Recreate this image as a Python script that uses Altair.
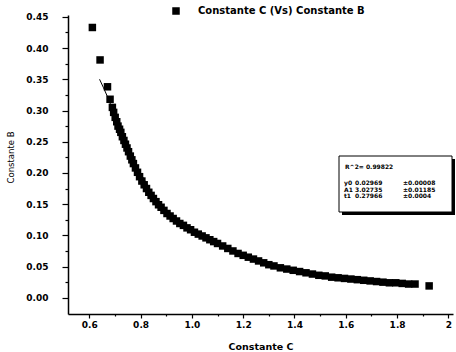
import altair as alt
import pandas as pd

# Scatter data: Constante C (x) vs Constante B (y)
const_c = [0.612, 0.642, 0.671, 0.681,
           0.690, 0.695, 0.701, 0.707, 0.712, 0.718, 0.723, 0.729, 0.735, 0.741,
           0.747, 0.753, 0.760, 0.766, 0.772, 0.780, 0.788, 0.796, 0.805, 0.814,
           0.823, 0.832, 0.841, 0.850, 0.860, 0.870, 0.880, 0.891, 0.903, 0.915,
           0.927, 0.940, 0.953, 0.967, 0.981, 0.995, 1.010, 1.025, 1.040, 1.055,
           1.070, 1.085, 1.100, 1.120, 1.140, 1.160, 1.180, 1.200, 1.220, 1.240,
           1.260, 1.280, 1.300, 1.320, 1.345, 1.370, 1.395, 1.420, 1.445, 1.470,
           1.495, 1.520, 1.545, 1.570, 1.595, 1.620, 1.645, 1.670, 1.695, 1.720,
           1.745, 1.770, 1.795, 1.820, 1.845, 1.870, 1.925]
const_b = [0.433, 0.381, 0.338, 0.318,
           0.305, 0.297, 0.289, 0.282, 0.275, 0.270, 0.265, 0.258, 0.252, 0.246,
           0.240, 0.234, 0.227, 0.221, 0.215, 0.208, 0.201, 0.194, 0.187, 0.181,
           0.175, 0.169, 0.164, 0.159, 0.154, 0.149, 0.145, 0.140, 0.135, 0.131,
           0.127, 0.123, 0.119, 0.116, 0.112, 0.109, 0.105, 0.102, 0.099, 0.096,
           0.093, 0.090, 0.087, 0.083, 0.079, 0.075, 0.071, 0.068, 0.065, 0.062,
           0.059, 0.056, 0.053, 0.051, 0.048, 0.046, 0.044, 0.042, 0.040, 0.038,
           0.036, 0.035, 0.033, 0.032, 0.031, 0.030, 0.029, 0.028, 0.027, 0.026,
           0.025, 0.024, 0.024, 0.023, 0.022, 0.022, 0.019]

# Fitted curve
fit_c = [0.640, 0.671, 0.700, 0.750, 0.800, 0.850, 0.900, 0.950, 1.000, 1.100,
         1.200, 1.300, 1.400, 1.500, 1.600, 1.700, 1.800, 1.870]
fit_b = [0.350, 0.322, 0.292, 0.245, 0.200, 0.165, 0.138, 0.121, 0.108, 0.087,
         0.069, 0.054, 0.044, 0.036, 0.031, 0.027, 0.024, 0.022]

series_name = "Constante C (Vs) Constante B"
x_major_ticks = [0.6, 0.8, 1.0, 1.2, 1.4, 1.6, 1.8, 2.0]
x_minor_ticks = [0.7, 0.9, 1.1, 1.3, 1.5, 1.7, 1.9]
y_major_ticks = [0.0, 0.05, 0.10, 0.15, 0.20, 0.25, 0.30, 0.35, 0.40, 0.45]
y_minor_ticks = [0.025, 0.075, 0.125, 0.175, 0.225, 0.275, 0.325, 0.375, 0.425]

fit_title = "R^2= 0.99822"
fit_names = ["y0", "A1", "t1"]
fit_values = ["0.02969", "3.02735", "0.27966"]
fit_errors = ["\u00b10.00008", "\u00b10.01185", "\u00b10.0004"]

FONT = "DejaVu Sans"

pts = pd.DataFrame({"C": const_c, "B": const_b, "series": series_name})
fit = pd.DataFrame({"C": fit_c, "B": fit_b})

xscale = alt.Scale(domain=[0.517, 2.018], nice=False, zero=False)
yscale = alt.Scale(domain=[-0.026, 0.453], nice=False, zero=False)

xaxis = alt.Axis(
    title="Constante C", values=x_major_ticks, labelOverlap=False,
    labelExpr="datum.value == 2 ? '2' : format(datum.value, '.1f')",
    tickSize=4, grid=False, domainColor="black", domainWidth=1.5,
    tickColor="black", tickWidth=1.2,
    labelFont=FONT, labelFontSize=9, labelColor="black", labelPadding=2, labelFontWeight="bold",
    titleFont=FONT, titleFontSize=9.5, titleFontWeight="bold", titleColor="black",
    titlePadding=12, orient="bottom",
)
yaxis = alt.Axis(
    title="Constante B", values=y_major_ticks, labelOverlap=False, format=".2f",
    tickSize=6, grid=False, domainColor="black", domainWidth=1.5,
    tickColor="black", tickWidth=1.2,
    labelFont=FONT, labelFontSize=9, labelColor="black", labelPadding=14, labelFontWeight="bold",
    titleFont=FONT, titleFontSize=8.5, titleFontWeight="normal", titleColor="black",
    titleX=-53, titleY=142, orient="left",
)

scatter = alt.Chart(pts).mark_square(size=56, opacity=1).encode(
    x=alt.X("C:Q", scale=xscale, axis=xaxis),
    y=alt.Y("B:Q", scale=yscale, axis=yaxis),
    color=alt.Color("series:N", scale=alt.Scale(range=["black"]),
                    legend=alt.Legend(title=None, orient="none", legendX=103, legendY=-9,
                                      symbolType="square", symbolSize=36,
                                      symbolFillColor="black", symbolStrokeColor="black",
                                      labelFont=FONT, labelFontSize=10, labelFontWeight="bold",
                                      labelColor="black", labelOffset=17, labelLimit=400,
                                      padding=0)),
)

minor = alt.Chart(pts).mark_point(opacity=0).encode(
    x=alt.X("C:Q", scale=xscale,
            axis=alt.Axis(values=x_minor_ticks, labels=False, tickSize=2, domain=False,
                          title=None, grid=False, tickColor="black", tickWidth=1.2,
                          orient="bottom")),
    y=alt.Y("B:Q", scale=yscale,
            axis=alt.Axis(values=y_minor_ticks, labels=False, tickSize=3, domain=False,
                          title=None, grid=False, tickColor="black", tickWidth=1.2,
                          orient="left")),
)

line = alt.Chart(fit).mark_line(color="black", strokeWidth=1, interpolate="monotone").encode(
    x=alt.X("C:Q", scale=xscale, axis=None), y=alt.Y("B:Q", scale=yscale, axis=None)
)

box_df = pd.DataFrame({"k": [0]})
shadow = alt.Chart(box_df).mark_rect(color="black").encode(
    x=alt.value(274), x2=alt.value(387), y=alt.value(144), y2=alt.value(200)
)
box = alt.Chart(box_df).mark_rect(fill="white", stroke="black", strokeWidth=1).encode(
    x=alt.value(271), x2=alt.value(384), y=alt.value(141), y2=alt.value(197)
)

layers = [scatter, minor, line, shadow, box]
txt_style = dict(font=FONT, fontSize=6, fontWeight="bold", color="black", align="left",
                 baseline="middle")
layers.append(alt.Chart(box_df).mark_text(**txt_style).encode(
    x=alt.value(277), y=alt.value(152), text=alt.value(fit_title)))
row_y = [168, 174.5, 181]
for i in range(3):
    for xv, arr in [(276, fit_names), (287, fit_values), (335, fit_errors)]:
        layers.append(alt.Chart(box_df).mark_text(**txt_style).encode(
            x=alt.value(xv), y=alt.value(row_y[i]), text=alt.value(arr[i])))

chart = alt.layer(*layers).resolve_axis(x="independent", y="independent").properties(
    width=385, height=299,
    padding={"left": 68, "top": 15, "right": 3, "bottom": 38},
    autosize="none", background="white",
).configure_view(stroke=None).configure_axis(labelOverlap=False)

chart.save("out.html", embed_options={"renderer": "svg", "actions": False})
